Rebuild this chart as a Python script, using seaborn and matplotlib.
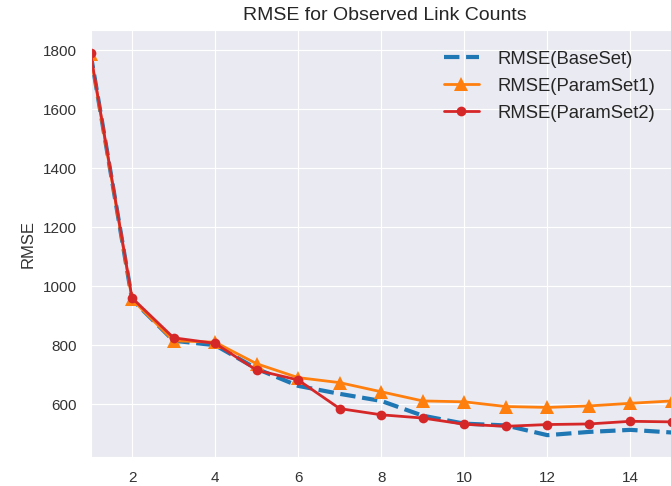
import matplotlib
matplotlib.use("Agg")
import matplotlib.pyplot as plt
import seaborn as sns
import pandas as pd

iterations = list(range(1, 17))
rmse_base = [1790, 955, 815, 800, 720, 662, 635, 611, 561, 534, 528, 495, 506, 513, 504, 504]
rmse_param1 = [1785, 955, 815, 810, 737, 690, 673, 642, 611, 608, 592, 589, 594, 603, 611, 612]
rmse_param2 = [1790, 960, 825, 806, 715, 682, 585, 564, 553, 532, 525, 531, 533, 542, 540, 540]
labels = ["RMSE(BaseSet)", "RMSE(ParamSet1)", "RMSE(ParamSet2)"]

sns.set_style("darkgrid")
plt.rcParams["font.family"] = ["Liberation Sans", "DejaVu Sans"]

fig = plt.figure(figsize=(6.71, 4.86), dpi=100)
ax = fig.add_axes([90.5 / 671, 29 / 486, 623 / 671, 427 / 486])

df = pd.DataFrame({"it": iterations, "b": rmse_base, "p1": rmse_param1, "p2": rmse_param2})

sns.lineplot(data=df, x="it", y="b", ax=ax, color="#1f77b4", linestyle="--",
             linewidth=3, label=labels[0])
sns.lineplot(data=df, x="it", y="p1", ax=ax, color="#ff7f0e", marker="^",
             markersize=10, markeredgewidth=0, linewidth=2, label=labels[1])
sns.lineplot(data=df, x="it", y="p2", ax=ax, color="#d62728", marker="o",
             markersize=7, markeredgewidth=0, linewidth=2, label=labels[2])

ax.set_xlim(1, 16)
ax.set_ylim(421, 1868)
ax.set_xticks([2, 4, 6, 8, 10, 12, 14])
ax.set_yticks([600, 800, 1000, 1200, 1400, 1600, 1800])
ax.tick_params(axis="both", labelsize=11, colors="#333333", length=0, pad=10)
ax.set_xlabel("")
ax.set_ylabel("RMSE", fontsize=12, color="#333333", labelpad=5)
fig.text(385 / 671, 1 - 15 / 486, "RMSE for Observed Link Counts", ha="center",
         va="center", fontsize=14, color="#262626")

ax.legend(loc="upper left", bbox_to_anchor=(427 / 671, 1 - 34 / 486),
          bbox_transform=fig.transFigure, frameon=False, fontsize=13.3,
          handlelength=1.9, handletextpad=1.0, labelspacing=0.55)

fig.savefig("out.png", dpi=100)
